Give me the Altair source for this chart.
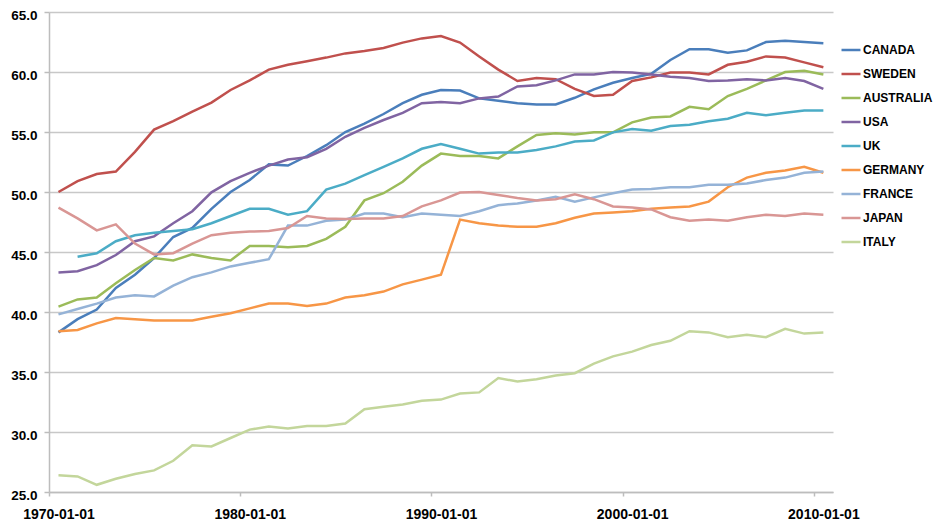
import altair as alt
import pandas as pd

years = list(range(1970, 2011))

countries = ["CANADA", "SWEDEN", "AUSTRALIA", "USA", "UK", "GERMANY", "FRANCE", "JAPAN", "ITALY"]
colors = ["#4a7ebb", "#c0504d", "#9bbb59", "#8064a2", "#4bacc6", "#f79646", "#95b3d7", "#d99694", "#c3d69b"]

canada = [38.3, 39.4, 40.2, 42.0, 43.1, 44.5, 46.25, 47.0, 48.6, 50.0,
          51.0, 52.3, 52.2, 53.0, 53.9, 55.0, 55.7, 56.5, 57.4, 58.1,
          58.5, 58.45, 57.8, 57.6, 57.4, 57.3, 57.3, 57.85, 58.55, 59.1,
          59.5, 59.85, 61.0, 61.9, 61.9, 61.6, 61.8, 62.5, 62.6, 62.5, 62.4]
sweden = [50.0, 50.9, 51.5, 51.7, 53.35, 55.2, 55.9, 56.7, 57.45, 58.5,
          59.3, 60.2, 60.6, 60.9, 61.2, 61.55, 61.75, 62.0, 62.45, 62.8,
          63.0, 62.45, 61.3, 60.2, 59.25, 59.5, 59.4, 58.6, 58.0, 58.1,
          59.25, 59.55, 59.95, 59.95, 59.8, 60.6, 60.85, 61.3, 61.2, 60.8, 60.4]
australia = [40.45, 41.05, 41.2, 42.4, 43.5, 44.5, 44.3, 44.8, 44.5, 44.3,
             45.5, 45.5, 45.4, 45.5, 46.1, 47.1, 49.3, 49.9, 50.85, 52.2,
             53.2, 53.0, 53.0, 52.8, 53.8, 54.75, 54.9, 54.8, 54.97, 54.97,
             55.8, 56.2, 56.3, 57.1, 56.9, 58.0, 58.6, 59.3, 60.0, 60.1, 59.8]
usa = [43.3, 43.4, 43.9, 44.75, 45.9, 46.3, 47.4, 48.4, 49.97, 50.9,
       51.6, 52.2, 52.7, 52.9, 53.6, 54.6, 55.35, 56.0, 56.6, 57.4,
       57.5, 57.4, 57.8, 57.95, 58.8, 58.9, 59.3, 59.8, 59.8, 60.0,
       59.95, 59.8, 59.6, 59.5, 59.25, 59.3, 59.4, 59.3, 59.5, 59.25, 58.6]
uk = [None, 44.6, 44.9, 45.9, 46.4, 46.6, 46.75, 46.9, 47.4, 48.0,
      48.6, 48.6, 48.1, 48.4, 50.2, 50.7, 51.4, 52.1, 52.8, 53.6,
      54.0, 53.6, 53.2, 53.3, 53.3, 53.5, 53.8, 54.2, 54.3, 54.97,
      55.25, 55.1, 55.5, 55.6, 55.9, 56.1, 56.6, 56.4, 56.6, 56.8, 56.8]
germany = [38.4, 38.5, 39.05, 39.5, 39.4, 39.3, 39.3, 39.3, 39.6, 39.9,
           40.3, 40.7, 40.7, 40.5, 40.7, 41.2, 41.4, 41.7, 42.3, 42.7,
           43.1, 47.7, 47.4, 47.2, 47.1, 47.1, 47.4, 47.85, 48.2, 48.3,
           48.4, 48.6, 48.7, 48.8, 49.2, 50.4, 51.2, 51.6, 51.8, 52.1, 51.6]
france = [39.8, 40.25, 40.7, 41.2, 41.4, 41.3, 42.2, 42.9, 43.3, 43.8,
          44.1, 44.4, 47.2, 47.2, 47.6, 47.7, 48.2, 48.2, 47.9, 48.2,
          48.1, 48.0, 48.4, 48.9, 49.05, 49.3, 49.6, 49.2, 49.55, 49.9,
          50.2, 50.25, 50.4, 50.4, 50.6, 50.6, 50.7, 51.0, 51.2, 51.6, 51.7]
japan = [48.7, 47.8, 46.8, 47.3, 45.7, 44.8, 44.9, 45.7, 46.4, 46.6,
         46.7, 46.75, 47.0, 48.0, 47.8, 47.75, 47.8, 47.8, 48.0, 48.8,
         49.3, 49.95, 50.0, 49.75, 49.5, 49.3, 49.4, 49.8, 49.4, 48.8,
         48.7, 48.55, 47.9, 47.6, 47.7, 47.6, 47.9, 48.1, 48.0, 48.2, 48.1]
italy = [26.4, 26.3, 25.6, 26.1, 26.5, 26.8, 27.6, 28.9, 28.8, 29.5,
         30.2, 30.45, 30.3, 30.5, 30.5, 30.7, 31.9, 32.1, 32.3, 32.6,
         32.7, 33.2, 33.3, 34.5, 34.2, 34.4, 34.7, 34.9, 35.7, 36.3,
         36.7, 37.25, 37.6, 38.4, 38.3, 37.9, 38.1, 37.9, 38.6, 38.2, 38.3]

series = [canada, sweden, australia, usa, uk, germany, france, japan, italy]

rows = []
for name, vals in zip(countries, series):
    for y, v in zip(years, vals):
        if v is not None:
            rows.append({"date": f"{y}-07-01", "country": name, "value": v})
df = pd.DataFrame(rows)

tick_dates = [alt.DateTime(year=y, month=1, date=1, utc=True) for y in [1970, 1980, 1990, 2000, 2010]]

FONT = "Liberation Sans"

chart = alt.Chart(df).mark_line(strokeWidth=2.5).encode(
    x=alt.X("date:T",
            scale=alt.Scale(type="utc",
                            domain=[alt.DateTime(year=1970, month=1, date=1, utc=True),
                                    alt.DateTime(year=2011, month=1, date=1, utc=True)]),
            axis=alt.Axis(title=None, values=tick_dates,
                          labelExpr="utcFormat(datum.value, '%Y-%m-%d')",
                          grid=False, domainColor="#bdbdbd", domainWidth=1.5,
                          tickColor="#bdbdbd", tickSize=4, tickWidth=1.5,
                          labelFont=FONT, labelFontSize=14, labelFontWeight="bold",
                          labelColor="#000000", labelOffset=9.5, labelPadding=11,
                          labelFlush=False, labelOverlap=False)),
    y=alt.Y("value:Q",
            scale=alt.Scale(domain=[25, 65], nice=False, zero=False),
            axis=alt.Axis(title=None, values=[25, 30, 35, 40, 45, 50, 55, 60, 65], format=".1f",
                          grid=True, gridColor="#c8c8c8", gridWidth=1.5,
                          domainColor="#bdbdbd", domainWidth=1.5,
                          tickColor="#bdbdbd", tickSize=5, tickWidth=1.5,
                          labelFont=FONT, labelFontSize=13.5, labelFontWeight="bold",
                          labelColor="#000000", labelPadding=7, labelOffset=3)),
    color=alt.Color("country:N",
                    scale=alt.Scale(domain=countries, range=colors),
                    sort=countries,
                    legend=alt.Legend(title=None, orient="none", legendX=791, legendY=27,
                                      symbolType="stroke", symbolSize=361, symbolStrokeWidth=2.5,
                                      labelFont=FONT, labelFontSize=12, labelFontWeight="bold",
                                      labelColor="#000000", labelOffset=1, rowPadding=7,
                                      labelLimit=200, padding=0)),
    order=alt.value(0),
).properties(
    width=784,
    height=480,
    autosize=alt.AutoSizeParams(type="none"),
    padding={"left": 41, "top": 4, "right": 100, "bottom": 31},
).configure_view(stroke=None)

chart.save("out.html", embed_options={"renderer": "svg", "actions": False})
